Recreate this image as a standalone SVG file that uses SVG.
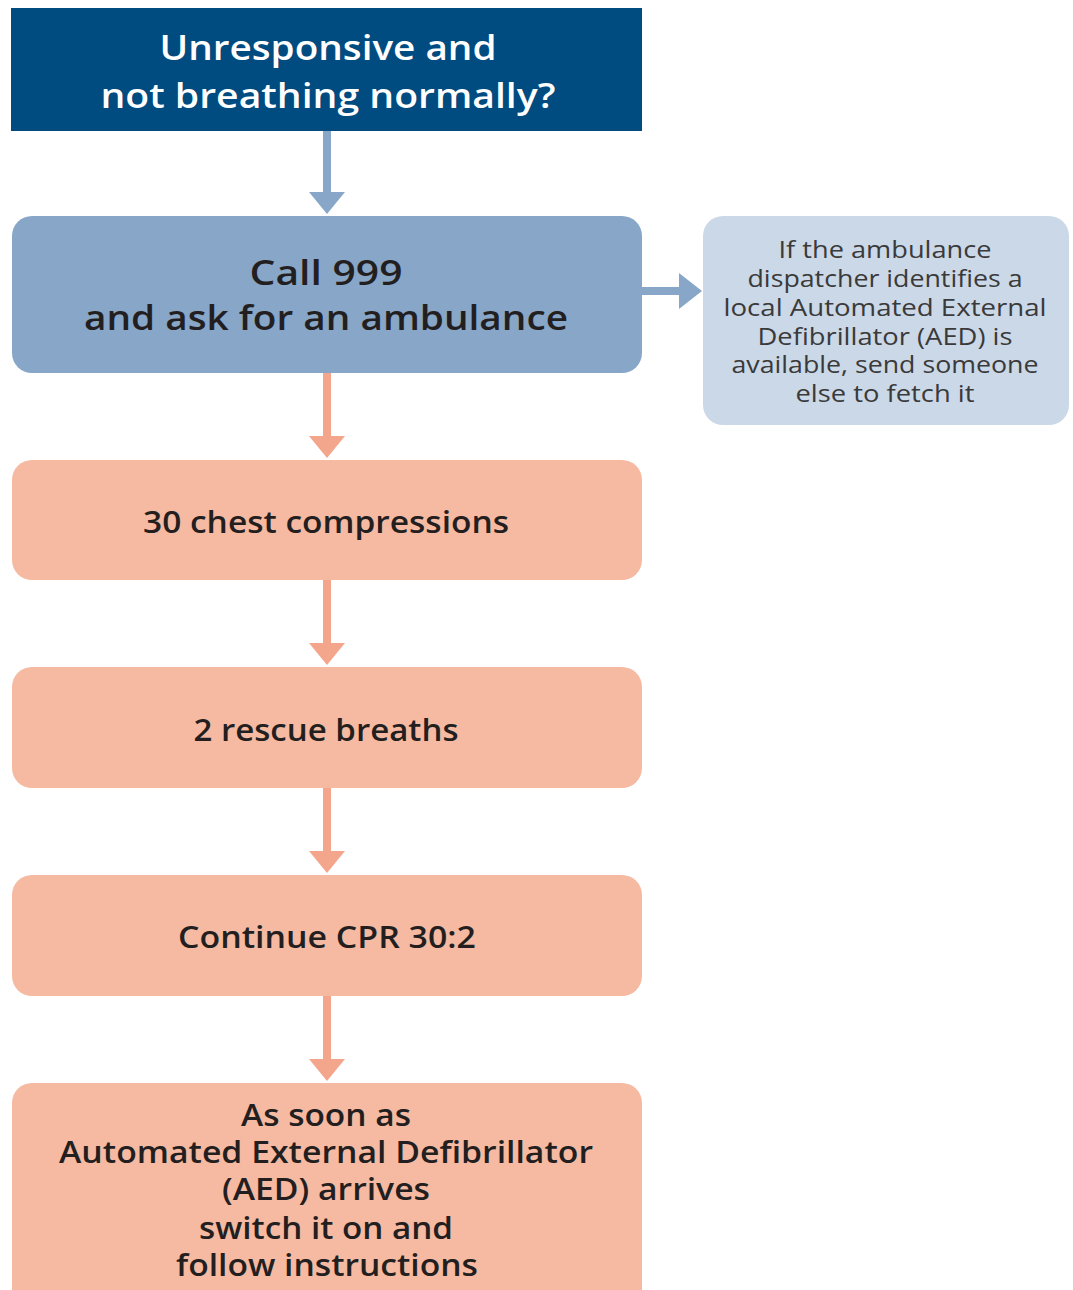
<svg xmlns="http://www.w3.org/2000/svg" width="1073" height="1290" viewBox="0 0 1073 1290">
<style>
.t{font-family:"Open Sans","Noto Sans","Liberation Sans",sans-serif;text-anchor:middle}
.big{font-size:35px;font-weight:600}
.mid{font-size:31px;font-weight:600;fill:#231f20}
.side{font-size:24px;font-weight:400;fill:#3a3a3a}
.salmon{fill:#f6b9a1}
.bl{stroke:#87a6c8;stroke-width:8;fill:none}
.sl{stroke:#f3a68b;stroke-width:8;fill:none}
</style>
<rect width="1073" height="1290" fill="#ffffff"/>
<g id="connectors">
<line class="bl" x1="327" y1="131" x2="327" y2="192"/>
<polygon points="309,192 345,192 327,214" fill="#87a6c8"/>
<line class="bl" x1="642" y1="291" x2="680" y2="291"/>
<polygon points="679,273 702,291 679,309" fill="#87a6c8"/>
<line class="sl" x1="327" y1="373" x2="327" y2="436"/>
<polygon points="309,436 345,436 327,458" fill="#f3a68b"/>
<line class="sl" x1="327" y1="580" x2="327" y2="643"/>
<polygon points="309,643 345,643 327,665" fill="#f3a68b"/>
<line class="sl" x1="327" y1="788" x2="327" y2="851"/>
<polygon points="309,851 345,851 327,873" fill="#f3a68b"/>
<line class="sl" x1="327" y1="996" x2="327" y2="1059"/>
<polygon points="309,1059 345,1059 327,1081" fill="#f3a68b"/>
</g>
<g id="start">
<rect x="11" y="8" width="631" height="123" fill="#004b7f"/>
<text class="t big" x="328" y="60" fill="#ffffff" textLength="337" lengthAdjust="spacingAndGlyphs">Unresponsive and</text>
<text class="t big" x="328" y="108" fill="#ffffff" textLength="455" lengthAdjust="spacingAndGlyphs">not breathing normally?</text>
</g>
<g id="call">
<rect x="12" y="216" width="630" height="157" rx="20" fill="#87a6c8"/>
<text class="t big" x="326" y="285" fill="#231f20" textLength="153" lengthAdjust="spacingAndGlyphs">Call 999</text>
<text class="t big" x="326" y="330" fill="#231f20" textLength="484" lengthAdjust="spacingAndGlyphs">and ask for an ambulance</text>
</g>
<g id="aed-note">
<rect x="703" y="216" width="366" height="209" rx="20" fill="#cbd8e8"/>
<text class="t side" x="885" y="258" textLength="213" lengthAdjust="spacingAndGlyphs">If the ambulance</text>
<text class="t side" x="885" y="287" textLength="275" lengthAdjust="spacingAndGlyphs">dispatcher identifies a</text>
<text class="t side" x="885" y="316" textLength="323" lengthAdjust="spacingAndGlyphs">local Automated External</text>
<text class="t side" x="885" y="345" textLength="255" lengthAdjust="spacingAndGlyphs">Defibrillator (AED) is</text>
<text class="t side" x="885" y="373" textLength="307" lengthAdjust="spacingAndGlyphs">available, send someone</text>
<text class="t side" x="885" y="402" textLength="179" lengthAdjust="spacingAndGlyphs">else to fetch it</text>
</g>
<g id="compressions">
<rect class="salmon" x="12" y="460" width="630" height="120" rx="20"/>
<text class="t mid" x="326" y="533" textLength="366" lengthAdjust="spacingAndGlyphs">30 chest compressions</text>
</g>
<g id="breaths">
<rect class="salmon" x="12" y="667" width="630" height="121" rx="20"/>
<text class="t mid" x="326" y="741" textLength="265" lengthAdjust="spacingAndGlyphs">2 rescue breaths</text>
</g>
<g id="continue">
<rect class="salmon" x="12" y="875" width="630" height="121" rx="20"/>
<text class="t mid" x="327" y="948" textLength="298" lengthAdjust="spacingAndGlyphs">Continue CPR 30:2</text>
</g>
<g id="aed">
<rect class="salmon" x="12" y="1083" width="630" height="230" rx="20"/>
<text class="t mid" x="326" y="1126" textLength="170" lengthAdjust="spacingAndGlyphs">As soon as</text>
<text class="t mid" x="326" y="1163" textLength="534" lengthAdjust="spacingAndGlyphs">Automated External Defibrillator</text>
<text class="t mid" x="326" y="1200" textLength="208" lengthAdjust="spacingAndGlyphs">(AED) arrives</text>
<text class="t mid" x="326" y="1239" textLength="254" lengthAdjust="spacingAndGlyphs">switch it on and</text>
<text class="t mid" x="327" y="1276" textLength="302" lengthAdjust="spacingAndGlyphs">follow instructions</text>
</g>
</svg>
